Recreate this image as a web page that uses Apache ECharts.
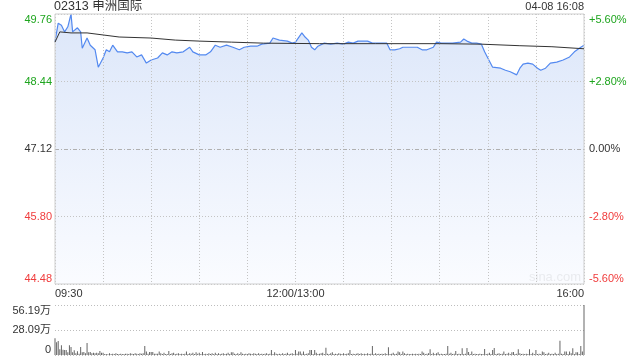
<!DOCTYPE html>
<html>
<head>
<meta charset="utf-8">
<script src="https://cdn.jsdelivr.net/npm/echarts@6/dist/echarts.min.js"></script>
<style>
html,body{margin:0;padding:0;background:#fff;}
#c{width:640px;height:360px;}
</style>
</head>
<body>
<div id="c"></div>
<script>
// ---- data ----
const stockTitle = '02313 申洲国际';
const stampText = '04-08 16:08';
const prevClose = 47.12;
const priceTicks = ['44.48', '45.80', '47.12', '48.44', '49.76'];
const pctTicks = ['-5.60%', '-2.80%', '0.00%', '+2.80%', '+5.60%'];
const volTicks = ['0', '28.09万', '56.19万'];
const timeLabels = {0: '09:30', 150: '12:00/13:00', 330: '16:00'};

// minute index since 09:30 (lunch break removed), price
const priceMinutes = [0,2,4,6,8,10,11,14,16,17,20,22,25,27,30,32,34,36,39,42,45,48,51,54,57,60,64,67,70,73,76,80,84,86,90,94,97,100,103,107,111,115,118,122,126,129,134,136,140,145,148,150,154,156,158,160,162,164,168,172,176,180,183,186,189,195,198,203,207,209,212,215,217,221,226,229,232,236,238,241,245,248,253,255,257,260,263,266,268,270,273,278,281,284,288,290,292,295,298,301,303,306,309,313,317,321,324,328,330];
const prices = [49.22,49.58,49.54,49.41,49.51,49.76,49.41,49.49,49.41,49.09,49.29,49.15,49.06,48.72,48.90,49.06,49.02,49.15,49.02,49.02,49.00,49.02,48.92,48.96,48.80,48.86,48.90,49.00,48.96,49.02,49.00,49.02,49.11,49.02,48.96,48.96,49.02,49.15,49.11,49.15,49.11,49.06,49.11,49.13,49.13,49.17,49.19,49.29,49.25,49.23,49.19,49.21,49.39,49.31,49.25,49.11,49.06,49.13,49.19,49.17,49.19,49.17,49.21,49.19,49.23,49.23,49.19,49.19,49.19,49.06,49.06,49.08,49.11,49.11,49.11,49.06,49.06,49.11,49.21,49.19,49.19,49.19,49.21,49.27,49.23,49.19,49.19,49.17,49.02,48.90,48.72,48.70,48.66,48.63,48.57,48.70,48.78,48.80,48.78,48.70,48.66,48.70,48.80,48.82,48.86,48.92,49.02,49.11,49.15];

const avgMinutes = [0,3,10,20,30,40,60,75,90,110,130,165,200,240,266,290,310,330];
const avgPrices = [49.21,49.41,49.39,49.39,49.35,49.31,49.29,49.25,49.23,49.21,49.19,49.18,49.18,49.18,49.17,49.14,49.12,49.08];

// volume per minute (万股), index = minute
const volumes = [
18.7,14.2,15.7,6.4,10.9,6.0,5.6,5.6,3.0,10.9,
9.0,3.0,5.3,2.0,4.2,1.5,9.0,3.0,3.5,2.0,
13.5,3.0,3.3,2.0,2.5,2.0,2.5,2.0,4.5,2.5,
2.5,1.0,1.0,0.8,2.0,1.0,1.5,1.2,2.0,1.0,
1.0,1.5,1.0,1.0,1.5,1.5,1.0,2.0,1.5,1.0,
2.0,1.5,1.0,2.0,1.5,2.0,10.1,4.0,1.5,3.5,
3.5,3.5,1.5,1.5,1.5,4.0,2.0,1.0,2.5,1.0,
1.0,4.5,1.0,2.0,2.5,1.0,1.5,2.0,1.0,1.5,
1.0,1.5,4.0,1.0,2.0,1.5,2.5,1.0,3.0,1.5,
2.5,1.0,3.5,1.0,1.5,1.0,2.0,1.0,2.0,1.0,
2.5,1.0,2.0,1.0,1.5,2.0,1.0,1.5,2.5,1.0,
3.0,3.0,1.5,1.0,2.0,1.0,3.0,1.5,1.0,1.5,
1.0,2.0,1.5,1.0,2.0,1.5,1.0,2.0,1.0,1.5,
1.0,1.5,2.0,1.0,1.5,5.6,1.0,3.0,1.5,1.0,
1.5,1.0,2.0,1.0,1.5,2.5,1.0,1.5,2.0,1.0,
5.6,1.5,4.0,4.0,1.5,4.0,1.0,1.5,2.0,5.6,
5.6,1.0,5.6,2.5,1.0,1.5,2.0,2.5,1.0,8.2,
1.5,1.0,2.0,3.0,1.0,1.5,1.0,2.0,1.5,1.0,
2.0,1.0,1.5,2.0,5.6,1.0,1.5,1.0,1.5,2.0,
1.0,2.0,1.0,1.5,1.0,2.0,1.0,1.5,10.1,1.0,
2.0,1.0,1.5,1.0,1.5,1.0,2.0,1.0,8.6,1.0,
1.5,2.5,1.0,1.5,4.0,3.0,1.0,4.0,2.0,1.0,
1.5,1.0,1.0,1.5,1.0,1.5,1.0,1.5,1.0,4.0,
2.5,1.0,1.5,2.0,6.4,1.0,2.5,1.0,2.0,3.0,
1.0,1.5,1.0,1.0,1.5,10.1,1.5,2.5,1.0,1.5,
4.5,1.0,1.5,1.0,7.5,1.0,1.5,7.9,3.5,1.0,
4.0,1.0,1.5,1.0,1.0,1.5,1.0,1.0,6.7,1.0,
1.5,2.5,1.0,5.6,7.9,1.0,1.5,2.0,1.0,1.5,
4.0,1.0,1.5,2.5,1.0,3.0,3.5,1.0,1.5,6.4,
2.0,1.0,1.5,1.0,1.5,1.0,6.4,1.0,2.5,1.0,
5.6,1.0,1.5,1.0,4.0,3.0,1.0,1.5,2.5,1.0,
1.5,1.0,2.5,1.0,1.5,16.1,1.5,1.0,4.0,4.0,
1.0,4.0,2.0,7.5,1.0,3.0,3.0,1.0,10.1,4.0,
56.19
];

// ---- chart ----
const FONT = '"Liberation Sans", Arial, "Noto Sans CJK SC", sans-serif';
const GREEN = '#1ea51e';
const RED = '#f03c3c';
const GRAY = '#333';
const tickColor = i => (i > 2 ? GREEN : (i < 2 ? RED : GRAY));
const DOT = {color: '#c4c4c4', type: [1, 2], width: 1};

const chart = echarts.init(document.getElementById('c'), null, {renderer: 'canvas'});
const priceData = priceMinutes.map((m, i) => [m, prices[i]]);
const avgData = avgMinutes.map((m, i) => [m, avgPrices[i]]);
const volData = volumes.map((v, i) => [i, v]);

chart.setOption({
  animation: false,
  backgroundColor: '#fff',
  textStyle: {fontFamily: FONT},
  title: [
    {text: stockTitle, left: 54, top: 0, padding: 0,
     textStyle: {fontSize: 12.5, fontWeight: 'normal', color: GRAY, fontFamily: FONT}},
    {text: stampText, right: 56, top: 1, padding: 0,
     textStyle: {fontSize: 11, fontWeight: 'normal', color: GRAY, fontFamily: FONT}}
  ],
  graphic: [{
    type: 'text', left: 529, top: 271, z: 1,
    style: {text: 'sina.com', fill: '#c8c8c8', fontSize: 13, fontFamily: FONT}
  }],
  grid: [
    {left: 55, top: 14, width: 529, height: 270, show: true, borderColor: '#cfcfcf', borderWidth: 1, backgroundColor: 'transparent', z: 6},
    {left: 55, top: 305, width: 529, height: 50, show: false}
  ],
  xAxis: [
    {type: 'value', gridIndex: 0, min: 0, max: 330, interval: 30, z: 5,
     axisLine: {show: false}, axisTick: {show: false},
     splitLine: {show: true, lineStyle: DOT},
     axisLabel: {show: true, margin: 4, fontSize: 11, color: GRAY, fontFamily: FONT,
       showMinLabel: true, showMaxLabel: true, alignMinLabel: 'left', alignMaxLabel: 'right',
       formatter: v => timeLabels[v] || ''}},
    {type: 'value', gridIndex: 1, min: 0, max: 330,
     axisLine: {show: false}, axisTick: {show: false}, splitLine: {show: false}, axisLabel: {show: false}}
  ],
  yAxis: [
    // data axis for price
    {type: 'value', gridIndex: 0, min: 44.48, max: 49.76,
     axisLine: {show: false}, axisTick: {show: false}, splitLine: {show: false}, axisLabel: {show: false}},
    // left tick labels (price)
    {type: 'value', gridIndex: 0, position: 'left', min: 0, max: 4, interval: 1, z: 5,
     axisLine: {show: false}, axisTick: {show: false},
     splitLine: {show: true, lineStyle: DOT},
     axisLabel: {margin: 3, fontSize: 11, fontFamily: FONT,
       verticalAlignMinLabel: 'bottom', verticalAlignMaxLabel: 'top',
       color: (v, i) => tickColor(Math.round(v)),
       formatter: v => priceTicks[Math.round(v)]}},
    // right tick labels (percent)
    {type: 'value', gridIndex: 0, position: 'right', min: 0, max: 4, interval: 1,
     axisLine: {show: false}, axisTick: {show: false}, splitLine: {show: false},
     axisLabel: {margin: 5, fontSize: 11, fontFamily: FONT,
       verticalAlignMinLabel: 'bottom', verticalAlignMaxLabel: 'top',
       color: (v, i) => tickColor(Math.round(v)),
       formatter: v => pctTicks[Math.round(v)]}},
    // volume axis
    {type: 'value', gridIndex: 1, min: 0, max: 56.19, interval: 28.095,
     axisLine: {show: false}, axisTick: {show: false},
     splitLine: {show: true, lineStyle: {color: '#bdbdbd', type: [1, 2], width: 1}},
     axisLabel: {margin: 4, fontSize: 11, color: GRAY, fontFamily: FONT,
       verticalAlignMinLabel: 'bottom', verticalAlignMaxLabel: 'top',
       formatter: (v, i) => volTicks[i]}}
  ],
  series: [
    {type: 'line', name: 'price', xAxisIndex: 0, yAxisIndex: 0, data: priceData,
     symbol: 'none', lineStyle: {color: '#5389f0', width: 1.2},
     areaStyle: {origin: 'start', color: new echarts.graphic.LinearGradient(0, 0, 0, 1, [
       {offset: 0, color: '#cddcf7'}, {offset: 1, color: '#f8faff'}])},
     markLine: {silent: true, symbol: 'none', label: {show: false},
       lineStyle: {color: '#b0b0b0', type: [4, 2, 1, 2], width: 1},
       data: [{yAxis: prevClose}]},
     z: 3},
    {type: 'line', name: 'avg', xAxisIndex: 0, yAxisIndex: 0, data: avgData,
     symbol: 'none', smooth: false, lineStyle: {color: '#333', width: 1}, z: 7},
    {type: 'bar', name: 'vol', xAxisIndex: 1, yAxisIndex: 3, data: volData,
     barWidth: 1, itemStyle: {color: '#666'}}
  ]
});
</script>
</body>
</html>
